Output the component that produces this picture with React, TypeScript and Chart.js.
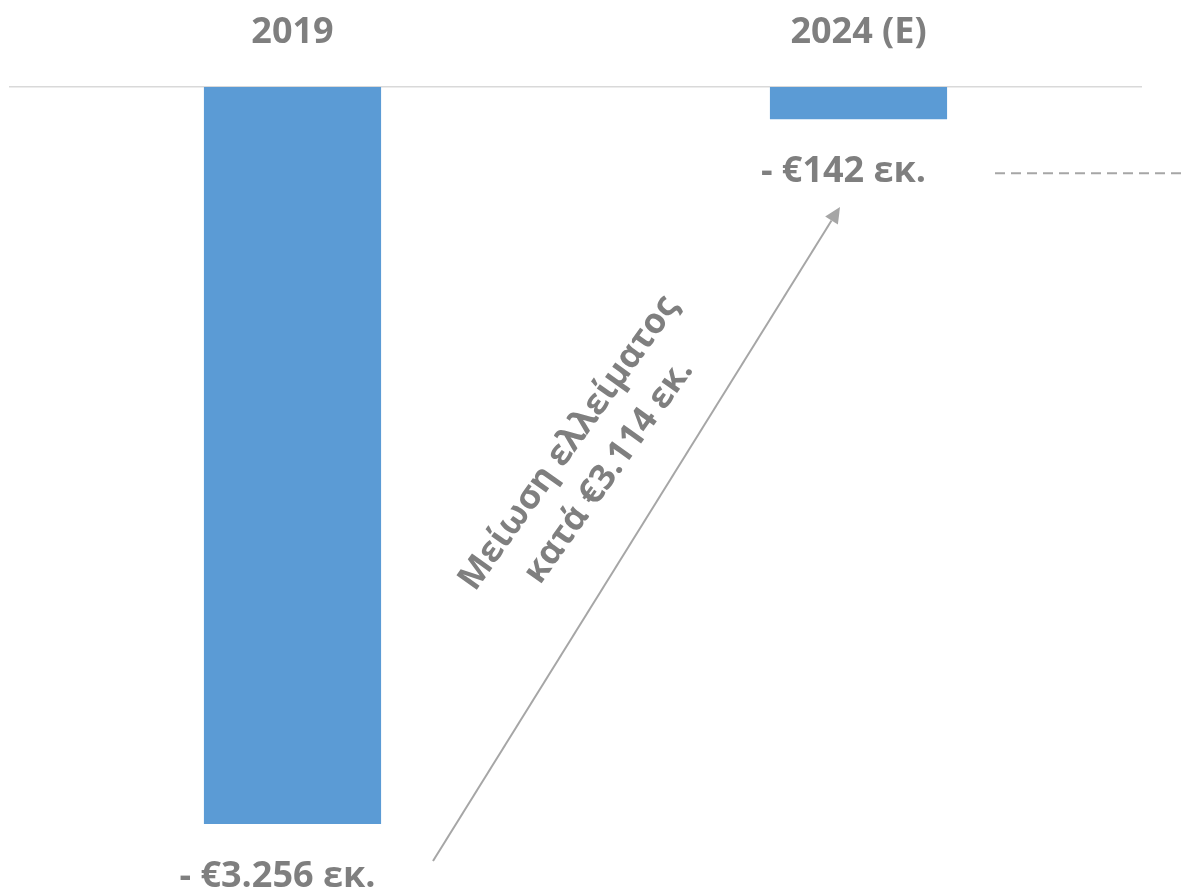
import React, { useEffect, useRef } from "react";
import { Chart, registerables } from "chart.js";

Chart.register(...registerables);

const categories = ["2019", "2024 (E)"];
const deficitValues = [-3256, -142];
const valueLabels = ["- €3.256 εκ.", "- €142 εκ."];
const noteLines = ["Μείωση ελλείματος", "κατά €3.114 εκ."];

const FONT = "'Open Sans', 'Noto Sans', sans-serif";
const GREY = "#7f7f7f";

const overlayPlugin = {
  id: "overlay",
  afterDatasetsDraw(chart: any) {
    const ctx = chart.ctx as CanvasRenderingContext2D;
    const meta = chart.getDatasetMeta(0);
    ctx.save();
    // value labels under bars
    ctx.fillStyle = GREY;
    ctx.font = `bold 36px ${FONT}`;
    ctx.textAlign = "center";
    ctx.textBaseline = "alphabetic";
    meta.data.forEach((bar: any, i: number) => {
      ctx.fillText(valueLabels[i], bar.x - 15, bar.y + 63);
    });

    // dashed reference line to the right of the second label
    const b2 = meta.data[1] as any;
    ctx.strokeStyle = "#a6a6a6";
    ctx.lineWidth = 2;
    ctx.setLineDash([10, 6]);
    ctx.beginPath();
    ctx.moveTo(995, b2.y + 54);
    ctx.lineTo(1186, b2.y + 54);
    ctx.stroke();
    ctx.setLineDash([]);

    // arrow
    const x0 = 433, y0 = 861, x1 = 840, y1 = 207;
    const ang = Math.atan2(y1 - y0, x1 - x0);
    const hl = 16, hw = 7.5;
    const bx = x1 - hl * Math.cos(ang);
    const by = y1 - hl * Math.sin(ang);
    ctx.strokeStyle = "#a6a6a6";
    ctx.fillStyle = "#a6a6a6";
    ctx.lineWidth = 2;
    ctx.beginPath();
    ctx.moveTo(x0, y0);
    ctx.lineTo(bx, by);
    ctx.stroke();
    ctx.beginPath();
    ctx.moveTo(x1, y1);
    ctx.lineTo(bx + hw * Math.sin(ang), by - hw * Math.cos(ang));
    ctx.lineTo(bx - hw * Math.sin(ang), by + hw * Math.cos(ang));
    ctx.closePath();
    ctx.fill();

    // rotated note
    ctx.fillStyle = GREY;
    ctx.font = `bold 35px ${FONT}`;
    ctx.textAlign = "center";
    ctx.textBaseline = "alphabetic";
    ctx.translate(577, 449);
    ctx.rotate((-54.5 * Math.PI) / 180);
    ctx.fillText(noteLines[0], 0, 0);
    ctx.fillText(noteLines[1], 0, 49);
    ctx.restore();
  },
};

export default function App() {
  const ref = useRef<HTMLCanvasElement | null>(null);
  useEffect(() => {
    if (!ref.current) return;
    const chart = new Chart(ref.current, {
      type: "bar",
      data: {
        labels: categories,
        datasets: [
          {
            data: deficitValues,
            backgroundColor: "#5b9bd5",
            borderWidth: 0,
            categoryPercentage: 1,
            barPercentage: 0.313,
          },
        ],
      },
      options: {
        animation: false,
        responsive: true,
        maintainAspectRatio: false,
        layout: { padding: { top: 0, left: 9.5, right: 44.5, bottom: 0 } },
        plugins: {
          legend: { display: false },
          tooltip: { enabled: false },
        },
        scales: {
          x: {
            position: "top",
            grid: { display: false, drawTicks: false },
            border: { display: true, color: "#d9d9d9", width: 1.5 },
            ticks: {
              color: GREY,
              font: { family: FONT, size: 36, weight: "bold", lineHeight: 1.2 },
              padding: 32.7,
              autoSkip: false,
              maxRotation: 0,
            },
            afterFit(scale: any) {
              scale.height = 87;
            },
          },
          y: {
            display: false,
            min: -3556,
            max: 0,
          },
        },
      },
      plugins: [overlayPlugin],
    });
    return () => chart.destroy();
  }, []);
  return (
    <div style={{ position: "absolute", left: 0, top: 0, width: 1186, height: 892 }}>
      <canvas ref={ref} />
    </div>
  );
}
